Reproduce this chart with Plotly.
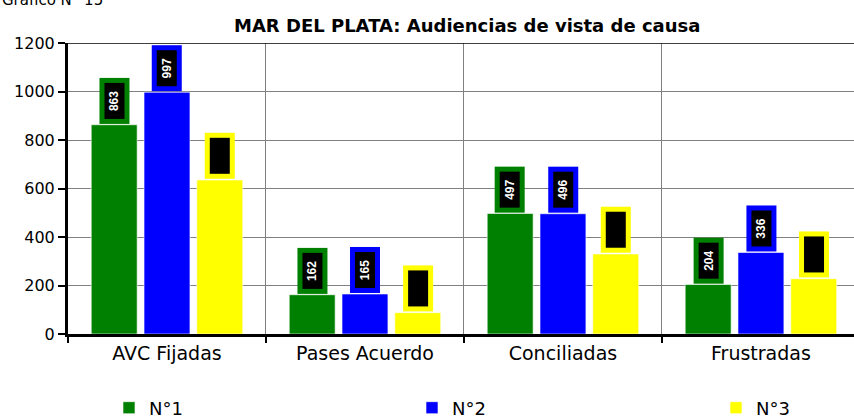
import plotly.graph_objects as go

categories = ["AVC Fijadas", "Pases Acuerdo", "Conciliadas", "Frustradas"]
series_names = ["N°1", "N°2", "N°3"]
n1 = [863, 162, 497, 204]
n2 = [997, 165, 496, 336]
n3 = [635, 88, 330, 228]
colors = ["#008000", "#0000FF", "#FFFF00"]
label_colors = ["white", "white", "black"]
y_ticks = [0, 200, 400, 600, 800, 1000, 1200]

series = [n1, n2, n3]
FONT = "DejaVu Sans"

L, T, B = 68, 43, 84
W, H = 854, 418
plot_w = W - L
plot_h = H - T - B

legend_names = ["legend", "legend2", "legend3"]
legend_px = [109, 412, 716]

fig = go.Figure()
for name, vals, col, lg in zip(series_names, series, colors, legend_names):
    fig.add_trace(go.Bar(
        x=categories, y=vals, name=name, legend=lg,
        marker=dict(color=col, line=dict(color="rgba(255,255,255,0.6)", width=1)),
    ))

slot = 0.8 / 3
for si, (vals, col, lc) in enumerate(zip(series, colors, label_colors)):
    off = (si - 1) * slot
    for ci, v in enumerate(vals):
        fig.add_annotation(
            x=ci + off, y=v, xref="x", yref="y",
            text=f"<b>{v}</b>", textangle=-90,
            showarrow=False, yanchor="bottom", yshift=1,
            font=dict(family="Arial", size=12, color=lc),
            bgcolor="black", bordercolor=col, borderwidth=5, borderpad=3,
            width=30, height=14,
        )

fig.add_annotation(
    text="<b>MAR DEL PLATA: Audiencias de vista de causa</b>",
    xref="paper", yref="paper", x=(467 - L) / plot_w, y=1 + (T - 25) / plot_h,
    showarrow=False, xanchor="center", yanchor="middle",
    font=dict(family=FONT, size=18, color="black"),
)
fig.add_annotation(
    text="Gráfico N° 15",
    xref="paper", yref="paper", x=-L / plot_w, y=1 + (T - 0) / plot_h,
    showarrow=False, xanchor="left", yanchor="middle",
    font=dict(family=FONT, size=15, color="black"),
)

fig.add_shape(type="line", xref="paper", yref="y", x0=0, x1=1, y0=1200, y1=1200,
              line=dict(color="black", width=1.5))

legend_common = dict(orientation="h", xanchor="left", yanchor="middle",
                     y=-(408 - (H - B)) / plot_h, font=dict(family=FONT, size=18),
                     itemwidth=30, bgcolor="rgba(0,0,0,0)")
layout_legends = {}
for lg, px in zip(legend_names, legend_px):
    layout_legends[lg] = dict(legend_common, x=(px - L) / plot_w)

fig.update_layout(
    width=W, height=H,
    margin=dict(l=L, r=0, t=T, b=B, autoexpand=False),
    paper_bgcolor="white", plot_bgcolor="white",
    barmode="group", bargap=0.2, bargroupgap=0.13,
    font=dict(family=FONT, size=17, color="black"),
    showlegend=True,
    xaxis=dict(range=[-0.5, 3.47], tickson="boundaries", showgrid=True,
               gridcolor="#808080", gridwidth=1, ticks="outside", ticklen=6,
               tickwidth=2, tickcolor="black", showline=True, linecolor="black",
               linewidth=3, tickfont=dict(family=FONT, size=19)),
    yaxis=dict(range=[0, 1200], tickvals=y_ticks, showgrid=True, gridcolor="#808080",
               gridwidth=1, ticks="outside", ticklen=7, tickwidth=2, tickcolor="black",
               showline=True, linecolor="black", linewidth=3, zeroline=False,
               tickfont=dict(family=FONT, size=16)),
    **layout_legends,
)

fig.write_html("out.html", config={"displayModeBar": False},
               post_script="document.body.style.margin='0';")
